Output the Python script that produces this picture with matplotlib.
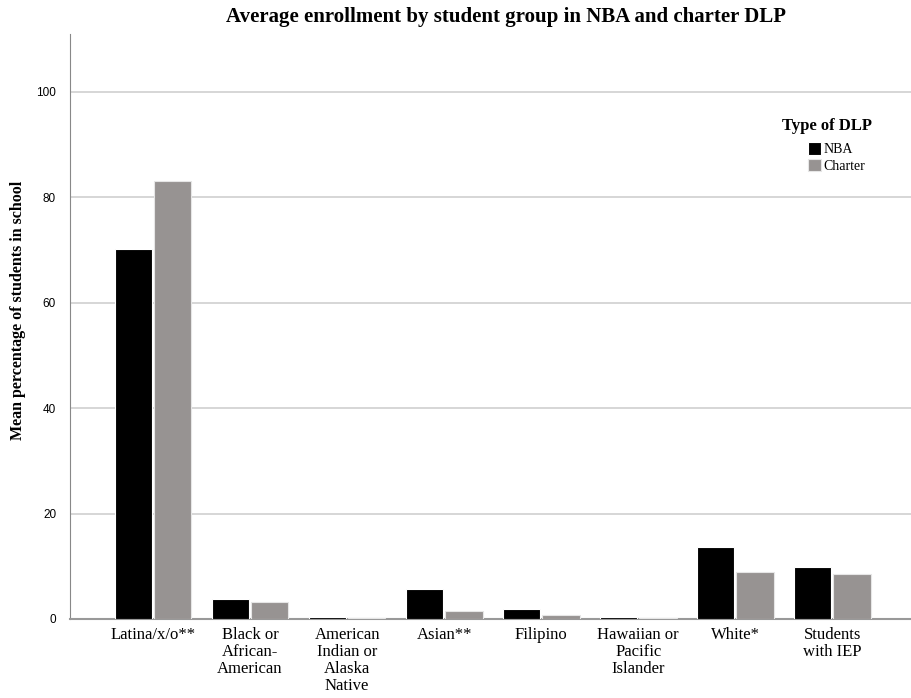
import matplotlib
matplotlib.use("Agg")
import matplotlib.pyplot as plt
import numpy as np

# mean percentage of students per group, by program type
groups = ["Latina/x/o**", "Black or\nAfrican-\nAmerican", "American\nIndian or\nAlaska\nNative",
          "Asian**", "Filipino", "Hawaiian or\nPacific\nIslander", "White*", "Students\nwith IEP"]
nba = [70.2, 3.7, 0.45, 5.75, 1.85, 0.45, 13.7, 9.9]
charter = [83.1, 3.2, 0.1, 1.5, 0.7, 0.1, 9.0, 8.5]
series_names = ["NBA", "Charter"]

serif = "Liberation Serif"
sans = "Liberation Sans"

fig = plt.figure(figsize=(9.11, 6.98), dpi=100)
ax = fig.add_axes([0.0768, 0.1132, 0.9232, 0.8381])

x = np.arange(len(groups))
w = 0.385
ax.bar(x - w / 2 - 0.01, nba, width=w, color="black", edgecolor="white", linewidth=0.8,
       label=series_names[0], zorder=3)
ax.bar(x + w / 2 + 0.01, charter, width=w, color="#979392", edgecolor="#e6e6e6", linewidth=0.8,
       label=series_names[1], zorder=3)

ax.set_xlim(-0.856, 7.81)
ax.set_ylim(0, 111)
ax.set_yticks([0, 20, 40, 60, 80, 100])
ax.yaxis.grid(True, color="#cfcfcf", linewidth=1.2, zorder=0)
ax.set_axisbelow(True)

for s in ["top", "right"]:
    ax.spines[s].set_visible(False)
ax.spines["left"].set_color("#888888")
ax.spines["bottom"].set_color("#999999")
ax.spines["bottom"].set_linewidth(1.5)

ax.tick_params(axis="y", length=0, pad=10, labelsize=8.5)
ax.tick_params(axis="x", length=0, pad=6)
for lab in ax.get_yticklabels():
    lab.set_fontfamily(sans)
ax.set_xticks(x)
ax.set_xticklabels(groups, fontfamily=serif, fontsize=12, linespacing=1.08, va="top")

fig.text(0.02, 0.555, "Mean percentage of students in school", rotation=90,
         ha="center", va="center", fontfamily=serif, fontweight="bold", fontsize=11.5)
fig.text(0.555, 0.976, "Average enrollment by student group in NBA and charter DLP",
         ha="center", va="center", fontfamily=serif, fontweight="bold", fontsize=15)

# legend: bold title above, entries indented below it
fig.text(0.908, 0.8195, "Type of DLP", ha="center", va="center",
         fontfamily=serif, fontweight="bold", fontsize=12)
ax.legend(loc="upper left", bbox_to_anchor=(0.8775, 0.815), frameon=False,
          prop={"family": serif, "size": 10}, borderpad=0, borderaxespad=0,
          handlelength=0.95, handleheight=1.0, handletextpad=0.15, labelspacing=0.2)

fig.savefig("out.png", dpi=100)
